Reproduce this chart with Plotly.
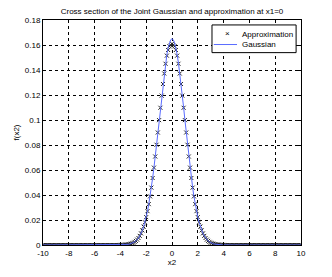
import numpy as np
import plotly.graph_objects as go

# x grid (step 0.1 from -10 to 10)
x2 = np.round(np.arange(-100, 101) / 10.0, 1)

# right half of the curve (x = 0.0 ... 4.5)
gauss_half = [0.1650, 0.1642, 0.1617, 0.1577, 0.1523, 0.1456, 0.1378, 0.1292, 0.1198, 0.1101,
              0.1001, 0.0901, 0.0803, 0.0709, 0.0619, 0.0536, 0.0459, 0.0389, 0.0327, 0.0271,
              0.0223, 0.0182, 0.0147, 0.0117, 0.0093, 0.0073, 0.0056, 0.0043, 0.0033, 0.0025,
              0.0018, 0.0014, 0.0010, 0.0007, 0.0005, 0.0004, 0.0003, 0.0002, 0.0001, 0.0001,
              0.0001, 0.0000, 0.0000, 0.0000, 0.0000, 0.0000]
approx_half = [0.1610, 0.1600, 0.1590, 0.1560, 0.1515, 0.1450, 0.1372, 0.1288, 0.1195, 0.1098,
               0.0999, 0.0900, 0.0802, 0.0708, 0.0619, 0.0536, 0.0459, 0.0389, 0.0327, 0.0271,
               0.0223, 0.0182, 0.0147, 0.0117, 0.0093, 0.0073, 0.0056, 0.0043, 0.0033, 0.0025,
               0.0018, 0.0014, 0.0010, 0.0007, 0.0005, 0.0004, 0.0003, 0.0002, 0.0001, 0.0001,
               0.0001, 0.0000, 0.0000, 0.0000, 0.0000, 0.0000]
tail_zeros = [0.0] * 55  # values read as 0 for |x2| > 4.5

gauss = tail_zeros + gauss_half[:0:-1] + gauss_half + tail_zeros
approx = tail_zeros + approx_half[:0:-1] + approx_half + tail_zeros

x_ticks = [-10, -8, -6, -4, -2, 0, 2, 4, 6, 8, 10]
y_ticks = [0, 0.02, 0.04, 0.06, 0.08, 0.1, 0.12, 0.14, 0.16, 0.18]
y_tick_labels = ["0", "0.02", "0.04", "0.06", "0.08", "0.1", "0.12", "0.14", "0.16", "0.18"]

series_names = ["Approximation", "Gaussian"]
LINE_COLOR = "#5a6cff"
FONT = "Liberation Sans"

fig = go.Figure()
fig.add_trace(go.Scatter(
    x=x2, y=approx, mode="markers", name=series_names[0],
    marker=dict(symbol="x-thin", size=4, color="black", line=dict(width=1, color="#222222")),
    showlegend=False,
))
fig.add_trace(go.Scatter(
    x=x2, y=gauss, mode="lines", name=series_names[1],
    line=dict(color=LINE_COLOR, width=1),
    showlegend=False,
))

axis_common = dict(
    showline=True, linecolor="black", linewidth=1, mirror="ticks",
    ticks="inside", ticklen=3, tickcolor="black",
    showgrid=True, gridcolor="black", gridwidth=1, griddash="dot",
    zeroline=False,
    tickfont=dict(family=FONT, size=8, color="black"),
)

# compact MATLAB-style legend box (paper coordinates)
fig.add_shape(type="rect", xref="paper", yref="paper", x0=0.655, x1=0.981, y0=0.855, y1=0.978,
              fillcolor="white", line=dict(color="black", width=1), layer="above")
fig.add_shape(type="line", xref="paper", yref="paper", x0=0.662, x1=0.752, y0=0.891, y1=0.891,
              line=dict(color=LINE_COLOR, width=1), layer="above")
fig.add_annotation(xref="paper", yref="paper", x=0.717, y=0.938, text="×", showarrow=False,
                   font=dict(family=FONT, size=8, color="black"), xanchor="center", yanchor="middle")
fig.add_annotation(xref="paper", yref="paper", x=0.765, y=0.936, text=series_names[0], showarrow=False,
                   font=dict(family=FONT, size=8, color="black"), xanchor="left", yanchor="middle")
fig.add_annotation(xref="paper", yref="paper", x=0.765, y=0.891, text=series_names[1], showarrow=False,
                   font=dict(family=FONT, size=8, color="black"), xanchor="left", yanchor="middle")

fig.update_layout(
    width=332, height=277,
    margin=dict(l=43, r=31, t=20, b=30),
    paper_bgcolor="white", plot_bgcolor="white",
    font=dict(family=FONT, size=8, color="black"),
    title=dict(text="Cross section of the Joint Gaussian and approximation at x1=0",
               x=0.5, xref="paper", xanchor="center", y=0.96, yanchor="middle",
               font=dict(family=FONT, size=8, color="black")),
    xaxis=dict(range=[-10, 10], tickvals=x_ticks, ticktext=[str(t) for t in x_ticks],
               title=dict(text="x2", standoff=2, font=dict(family=FONT, size=8)),
               **axis_common),
    yaxis=dict(range=[0, 0.18], tickvals=y_ticks, ticktext=y_tick_labels,
               title=dict(text="f(x2)", standoff=4, font=dict(family=FONT, size=8)),
               **axis_common),
    showlegend=False,
)

fig.write_html("out.html", config={"displayModeBar": False},
               post_script="document.body.style.margin='0';")
